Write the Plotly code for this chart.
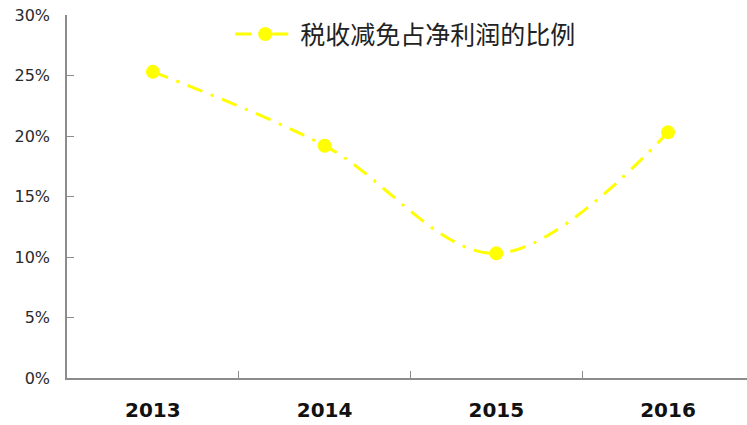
import plotly.graph_objects as go

years = ["2013", "2014", "2015", "2016"]
tax_relief_ratio = [0.253, 0.192, 0.103, 0.203]
series_name = "税收减免占净利润的比例"
y_ticks = [0, 0.05, 0.10, 0.15, 0.20, 0.25, 0.30]
y_tick_labels = ["0%", "5%", "10%", "15%", "20%", "25%", "30%"]

fig = go.Figure()
fig.add_trace(go.Scatter(
    x=years,
    y=tax_relief_ratio,
    mode="lines+markers",
    name=series_name,
    line=dict(color="#FFFF00", width=3, dash="16px,9px,3px,9px", shape="spline", smoothing=1),
    marker=dict(color="#FFFF00", size=14, symbol="circle"),
))

fig.update_layout(
    width=747,
    height=425,
    margin=dict(l=67, r=0, t=15, b=47),
    paper_bgcolor="white",
    plot_bgcolor="white",
    showlegend=True,
    legend=dict(
        x=0.24, y=1.01, xanchor="left", yanchor="top",
        bgcolor="rgba(0,0,0,0)",
        font=dict(family="Noto Sans CJK SC", size=25, color="#222222"),
        itemwidth=60,
    ),
    xaxis=dict(
        type="category",
        range=[-0.5, 3.46],
        showline=True, linecolor="#8c8c8c", linewidth=1.5,
        ticks="inside", tickson="boundaries", ticklen=7, tickcolor="#8c8c8c", tickwidth=1,
        showgrid=False, zeroline=False,
        tickfont=dict(family="DejaVu Sans", size=20, color="#111111", weight="bold"),
        ticklabelstandoff=13,
    ),
    yaxis=dict(
        range=[0, 0.30],
        tickvals=y_ticks,
        ticktext=y_tick_labels,
        showline=True, linecolor="#8c8c8c", linewidth=1.5,
        ticks="inside", ticklen=7, tickcolor="#8c8c8c", tickwidth=1,
        showgrid=False, zeroline=False,
        tickfont=dict(family="DejaVu Sans", size=16, color="#2a2a2a"),
        ticklabelstandoff=12,
    ),
)

fig.write_html("out.html")
